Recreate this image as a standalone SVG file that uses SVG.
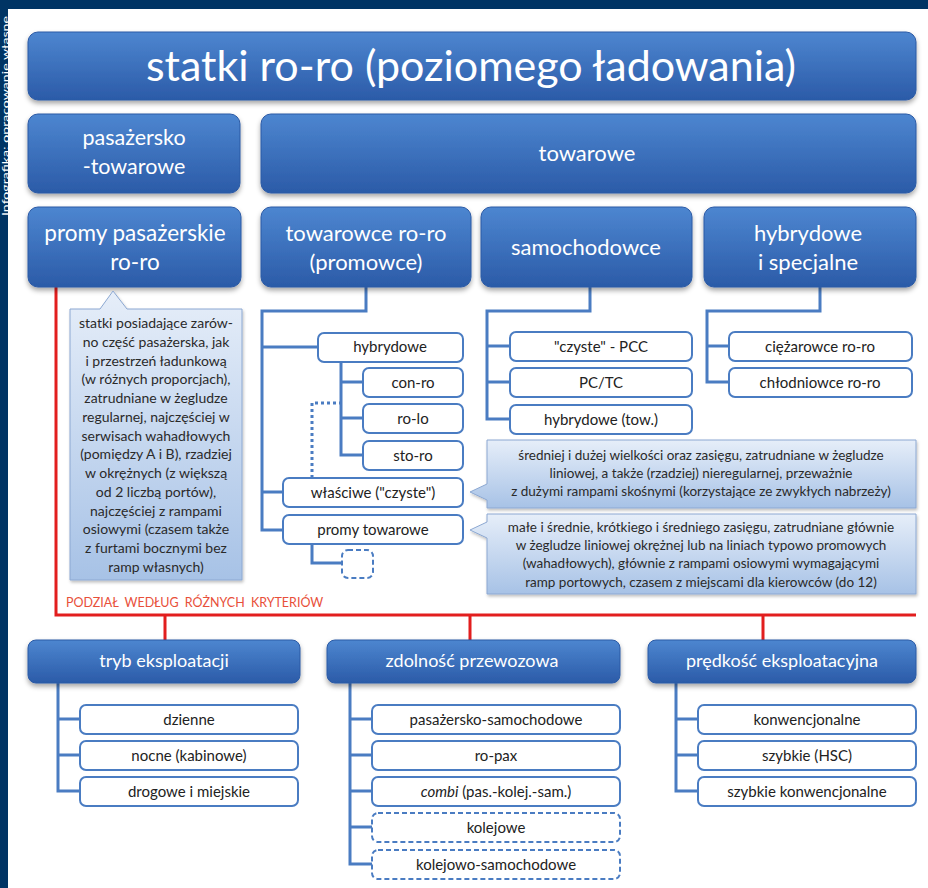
<svg xmlns="http://www.w3.org/2000/svg" width="928" height="888" viewBox="0 0 928 888">
<defs>
<linearGradient id="gb" x1="0" y1="0" x2="0" y2="1">
<stop offset="0" stop-color="#4d86d0"/>
<stop offset="1" stop-color="#2b5ba8"/>
</linearGradient>
<linearGradient id="gc" x1="0" y1="0" x2="0" y2="1">
<stop offset="0" stop-color="#e6eef9"/>
<stop offset="1" stop-color="#a7c2e6"/>
</linearGradient>
<filter id="sh" x="-10%" y="-20%" width="120%" height="150%">
<feDropShadow dx="0" dy="3" stdDeviation="2.5" flood-color="#000" flood-opacity="0.35"/>
</filter>
<filter id="sh2" x="-10%" y="-20%" width="120%" height="150%">
<feDropShadow dx="1" dy="2" stdDeviation="1.5" flood-color="#000" flood-opacity="0.25"/>
</filter>
</defs>
<style>
.blue{fill:url(#gb);stroke:#2b5aa5;stroke-width:1;filter:url(#sh)}
.bt{font-family:Lato,"Liberation Sans",sans-serif;fill:#fff;text-anchor:middle}
.sub{fill:#fff;stroke:#4a7cc2;stroke-width:2}
.dsub{fill:#fff;stroke:#4a7cc2;stroke-width:2;stroke-dasharray:5 3}
.st{font-family:Lato,"Liberation Sans",sans-serif;fill:#222;font-size:15px;text-anchor:middle}
.call{fill:url(#gc);stroke:#8ca8d2;stroke-width:1;filter:url(#sh2)}
.ct{font-family:Lato,"Liberation Sans",sans-serif;fill:#2a2a2a;font-size:13.5px;text-anchor:middle}
.ctl{font-family:Lato,"Liberation Sans",sans-serif;fill:#2a2a2a;font-size:14px;text-anchor:middle}
.tree{fill:none;stroke:#4a7cc2;stroke-width:3}
.red{fill:none;stroke:#e21e1e;stroke-width:3}
</style>
<rect x="0" y="0" width="928" height="888" fill="#fff"/>
<rect x="0" y="0" width="928" height="9" fill="#003464"/>
<rect x="0" y="0" width="8" height="888" fill="#003464"/>
<text x="9" y="216" transform="rotate(-90 9 216)" font-family="Lato,'Liberation Sans',sans-serif" font-size="9" textLength="200" lengthAdjust="spacingAndGlyphs" fill="#fff">Infografika: opracowanie własne</text>

<g id="connectors">
<path class="red" d="M56 287 V615 H916 M165 615 V640 M470 615 V640 M763 615 V640"/>
<path class="tree" d="M366 287 V311 H262 V530 H283 M262 347 H318 M262 492 H283"/>
<path class="tree" d="M341 362 V455 H363 M341 382 H363 M341 418 H363"/>
<path class="tree" d="M312 545 V563 H342"/>
<path fill="none" stroke="#4a7cc2" stroke-width="3" stroke-dasharray="3 3" d="M312 478 V403 H340"/>
<path class="tree" d="M590 287 V311 H487 V419 H510 M487 346 H510 M487 382 H510"/>
<path class="tree" d="M820 287 V311 H707 V382 H729 M707 346 H729"/>
<path class="tree" d="M58 683 V791 H80 M58 719 H80 M58 755 H80"/>
<path class="tree" d="M350 683 V864 H372 M350 719 H372 M350 755 H372 M350 791 H372 M350 827 H372"/>
<path class="tree" d="M676 683 V791 H698 M676 719 H698 M676 755 H698"/>
<text x="66" y="607" font-family="Lato,'Liberation Sans',sans-serif" font-size="12.5" fill="#e8503a" word-spacing="3">PODZIAŁ WEDŁUG RÓŻNYCH KRYTERIÓW</text>
</g>

<g id="title"><rect class="blue" x="28" y="32" width="888" height="68" rx="10"/><text class="bt" x="471" y="81" font-size="43">statki ro-ro (poziomego ładowania)</text></g>
<g id="pasazersko-towarowe"><rect class="blue" x="28" y="114" width="212" height="79" rx="10"/><text class="bt" x="134" y="145" font-size="21.5">pasażersko</text><text class="bt" x="134" y="174" font-size="21.5">-towarowe</text></g>
<g id="towarowe"><rect class="blue" x="261" y="114" width="655" height="79" rx="10"/><text class="bt" x="587" y="161" font-size="22">towarowe</text></g>
<g id="promy-pasazerskie"><rect class="blue" x="28" y="207" width="213" height="80" rx="10"/><text class="bt" x="135" y="241" font-size="22.5">promy pasażerskie</text><text class="bt" x="135" y="270" font-size="22.5">ro-ro</text></g>
<g id="towarowce"><rect class="blue" x="261" y="207" width="210" height="80" rx="10"/><text class="bt" x="366" y="241" font-size="22">towarowce ro-ro</text><text class="bt" x="366" y="270" font-size="22">(promowce)</text></g>
<g id="samochodowce"><rect class="blue" x="481" y="207" width="211" height="80" rx="10"/><text class="bt" x="586" y="255" font-size="22">samochodowce</text></g>
<g id="hybrydowe-specjalne"><rect class="blue" x="704" y="207" width="212" height="80" rx="10"/><text class="bt" x="808" y="241" font-size="22">hybrydowe</text><text class="bt" x="808" y="270" font-size="22">i specjalne</text></g>

<g id="callout-promy"><path class="call" d="M70 309 H100 L113 291 L127 309 H242 V580 H70 Z"/>
<text class="ctl" x="156" y="328">statki posiadające zarów-</text>
<text class="ctl" x="156" y="347">no część pasażerska, jak</text>
<text class="ctl" x="156" y="366">i przestrzeń ładunkową</text>
<text class="ctl" x="156" y="384">(w różnych proporcjach),</text>
<text class="ctl" x="156" y="403">zatrudniane w żegludze</text>
<text class="ctl" x="156" y="422">regularnej, najczęściej w</text>
<text class="ctl" x="156" y="441">serwisach wahadłowych</text>
<text class="ctl" x="156" y="459">(pomiędzy A i B), rzadziej</text>
<text class="ctl" x="156" y="478">w okrężnych (z większą</text>
<text class="ctl" x="156" y="497">od 2 liczbą portów),</text>
<text class="ctl" x="156" y="516">najczęściej z rampami</text>
<text class="ctl" x="156" y="534">osiowymi (czasem także</text>
<text class="ctl" x="156" y="553">z furtami bocznymi bez</text>
<text class="ctl" x="156" y="572">ramp własnych)</text>
</g>

<g id="hybrydowe"><rect class="sub" x="318" y="333" width="145" height="29" rx="6"/><text class="st" x="390" y="352">hybrydowe</text></g>
<g id="con-ro"><rect class="sub" x="363" y="368" width="100" height="29" rx="6"/><text class="st" x="413" y="388">con-ro</text></g>
<g id="ro-lo"><rect class="sub" x="363" y="404" width="100" height="29" rx="6"/><text class="st" x="413" y="424">ro-lo</text></g>
<g id="sto-ro"><rect class="sub" x="363" y="441" width="100" height="29" rx="6"/><text class="st" x="413" y="461">sto-ro</text></g>
<g id="wlasciwe"><rect class="sub" x="283" y="478" width="180" height="29" rx="6"/><text class="st" x="373" y="498">właściwe ("czyste")</text></g>
<g id="promy-towarowe"><rect class="sub" x="283" y="515" width="180" height="29" rx="6"/><text class="st" x="373" y="535">promy towarowe</text></g>
<g id="empty"><rect class="dsub" x="342" y="550" width="31" height="28" rx="6"/></g>

<g id="pcc"><rect class="sub" x="510" y="332" width="182" height="29" rx="6"/><text class="st" x="601" y="352">"czyste" - PCC</text></g>
<g id="pctc"><rect class="sub" x="510" y="368" width="182" height="29" rx="6"/><text class="st" x="601" y="388">PC/TC</text></g>
<g id="hybrydowe-tow"><rect class="sub" x="510" y="405" width="182" height="29" rx="6"/><text class="st" x="601" y="425">hybrydowe (tow.)</text></g>
<g id="ciezarowce"><rect class="sub" x="729" y="332" width="183" height="29" rx="6"/><text class="st" x="820" y="352">ciężarowce ro-ro</text></g>
<g id="chlodniowce"><rect class="sub" x="729" y="368" width="183" height="29" rx="6"/><text class="st" x="820" y="388">chłodniowce ro-ro</text></g>

<g id="callout-wlasciwe"><path class="call" d="M487 440 H916 V508 H487 V500 L470 492 L487 484 Z"/>
<text class="ct" x="701" y="460">średniej i dużej wielkości oraz zasięgu, zatrudniane w żegludze</text>
<text class="ct" x="701" y="478">liniowej, a także (rzadziej) nieregularnej, przeważnie</text>
<text class="ct" x="701" y="496">z dużymi rampami skośnymi (korzystające ze zwykłych  nabrzeży)</text>
</g>
<g id="callout-promy-towarowe"><path class="call" d="M487 514 H916 V594 H487 V538 L470 530 L487 522 Z"/>
<text class="ct" x="701" y="532">małe i średnie, krótkiego i średniego zasięgu, zatrudniane głównie</text>
<text class="ct" x="701" y="550">w żegludze liniowej okrężnej lub na liniach typowo promowych</text>
<text class="ct" x="701" y="568">(wahadłowych), głównie z rampami osiowymi wymagającymi</text>
<text class="ct" x="701" y="587">ramp portowych, czasem z  miejscami dla kierowców (do 12)</text>
</g>

<g id="tryb"><rect class="blue" x="28" y="640" width="272" height="43" rx="8"/><text class="bt" x="164" y="667" font-size="18">tryb eksploatacji</text></g>
<g id="zdolnosc"><rect class="blue" x="327" y="640" width="293" height="43" rx="8"/><text class="bt" x="472" y="667" font-size="18">zdolność przewozowa</text></g>
<g id="predkosc"><rect class="blue" x="648" y="640" width="268" height="43" rx="8"/><text class="bt" x="782" y="667" font-size="18">prędkość eksploatacyjna</text></g>

<g id="dzienne"><rect class="sub" x="80" y="705" width="218" height="29" rx="6"/><text class="st" x="189" y="725">dzienne</text></g>
<g id="nocne"><rect class="sub" x="80" y="741" width="218" height="29" rx="6"/><text class="st" x="189" y="761">nocne (kabinowe)</text></g>
<g id="drogowe"><rect class="sub" x="80" y="777" width="218" height="29" rx="6"/><text class="st" x="189" y="797">drogowe i miejskie</text></g>

<g id="pas-sam"><rect class="sub" x="372" y="705" width="248" height="29" rx="6"/><text class="st" x="496" y="725">pasażersko-samochodowe</text></g>
<g id="ro-pax"><rect class="sub" x="372" y="741" width="248" height="29" rx="6"/><text class="st" x="496" y="761">ro-pax</text></g>
<g id="combi"><rect class="sub" x="372" y="777" width="248" height="29" rx="6"/><text class="st" x="496" y="797"><tspan font-style="italic">combi</tspan> (pas.-kolej.-sam.)</text></g>
<g id="kolejowe"><rect class="dsub" x="372" y="813" width="248" height="29" rx="6"/><text class="st" x="496" y="833">kolejowe</text></g>
<g id="kolejowo-sam"><rect class="dsub" x="372" y="850" width="248" height="29" rx="6"/><text class="st" x="496" y="870">kolejowo-samochodowe</text></g>

<g id="konwencjonalne"><rect class="sub" x="698" y="705" width="218" height="29" rx="6"/><text class="st" x="807" y="725">konwencjonalne</text></g>
<g id="szybkie"><rect class="sub" x="698" y="741" width="218" height="29" rx="6"/><text class="st" x="807" y="761">szybkie (HSC)</text></g>
<g id="szybkie-konw"><rect class="sub" x="698" y="777" width="218" height="29" rx="6"/><text class="st" x="807" y="797">szybkie konwencjonalne</text></g>
</svg>
